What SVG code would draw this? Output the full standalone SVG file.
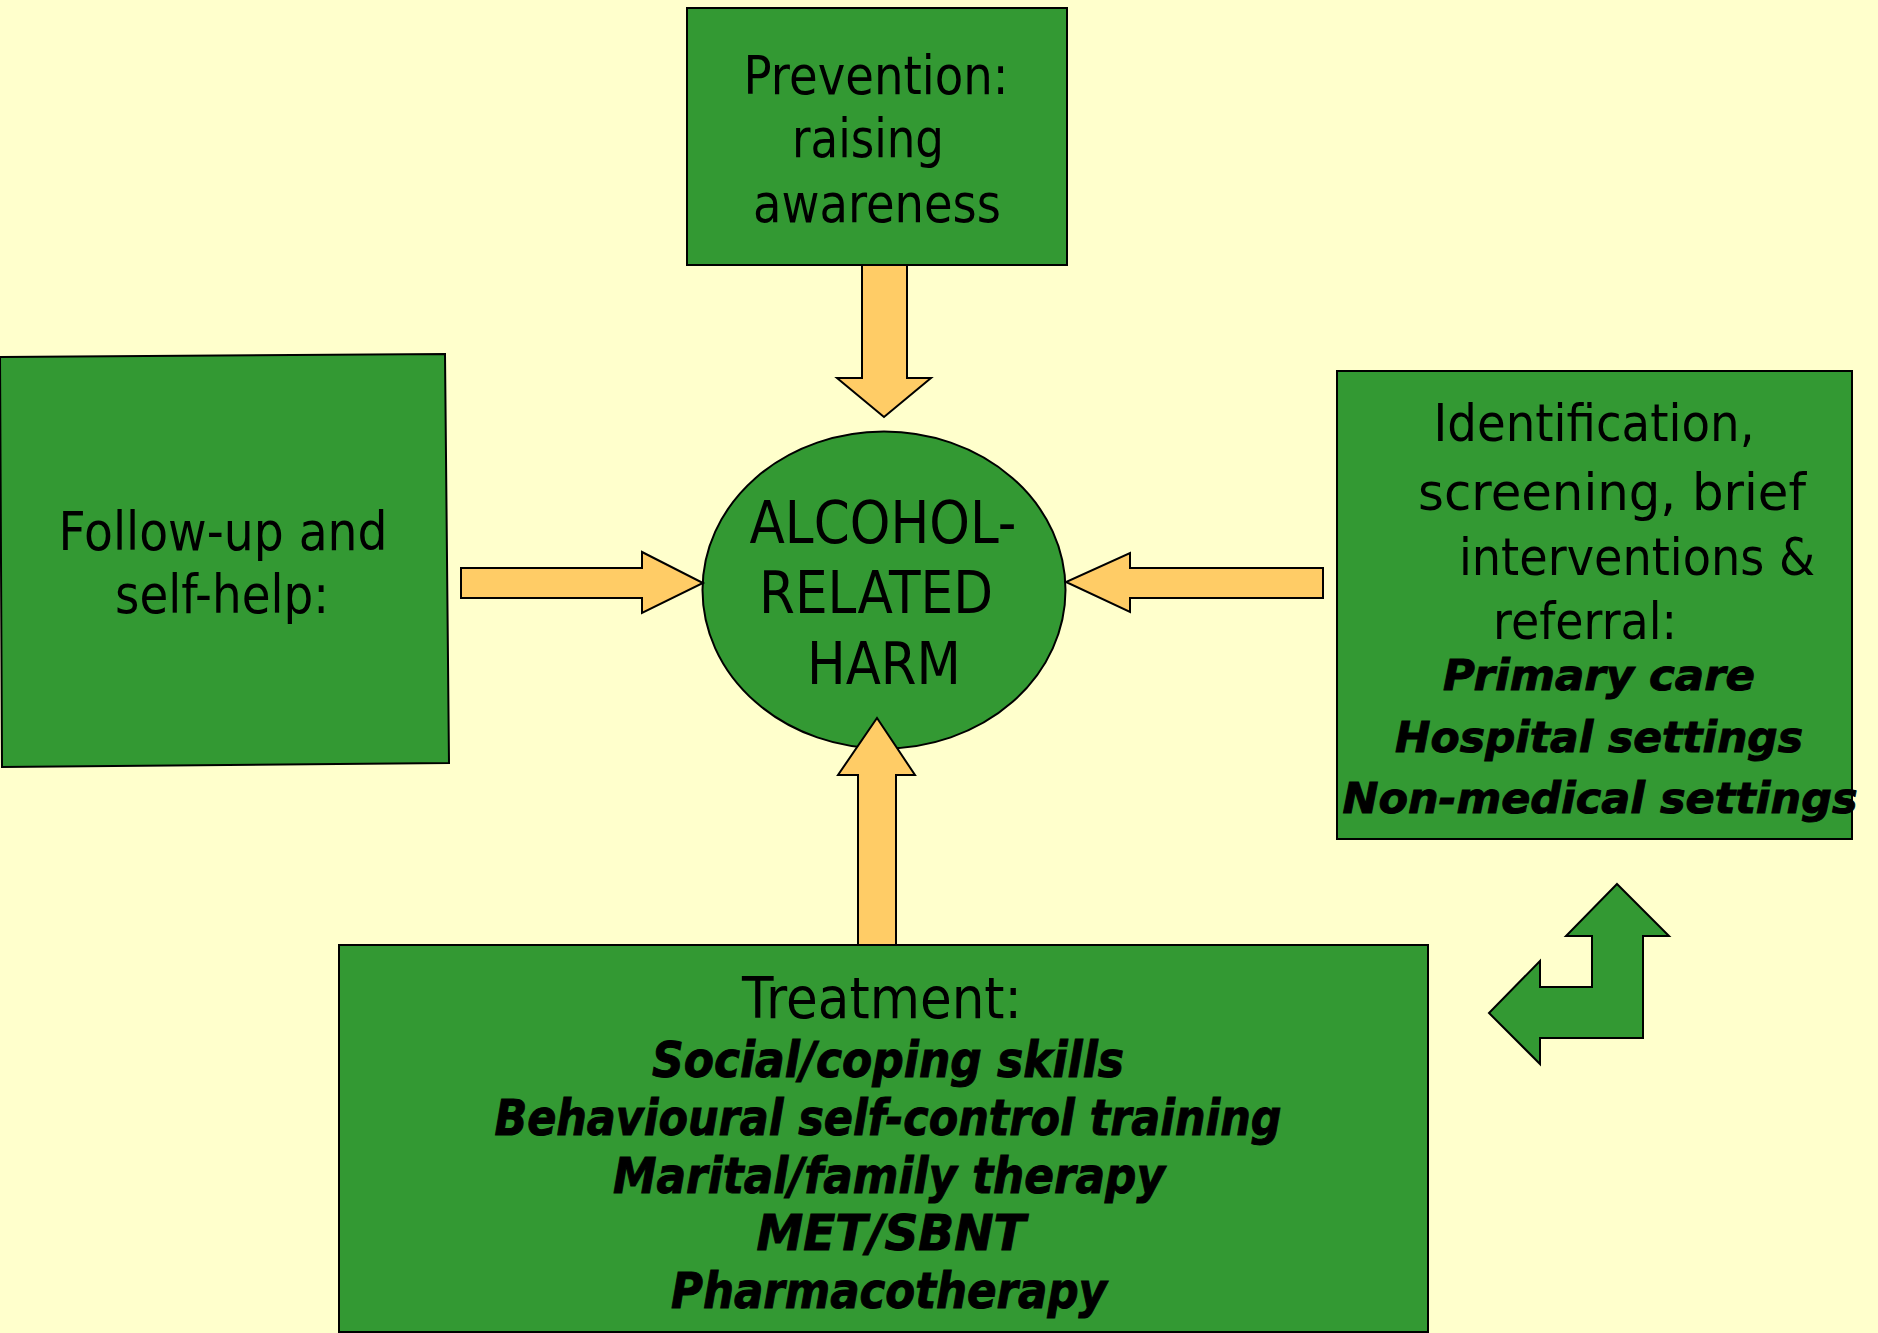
<svg xmlns="http://www.w3.org/2000/svg" width="1878" height="1333" viewBox="0 0 1878 1333">
<style>
.box{fill:#339933;stroke:#000;stroke-width:2}
.arr{fill:#FFCC66;stroke:#000;stroke-width:2;stroke-linejoin:miter}
.t{font-family:"DejaVu Sans","Liberation Sans",sans-serif;fill:#000;text-anchor:middle}
.b{font-family:"DejaVu Sans","Liberation Sans",sans-serif;font-weight:bold;font-style:italic;fill:#000;stroke:#000;stroke-width:1;text-anchor:middle}
</style>
<rect x="0" y="0" width="1878" height="1333" fill="#FFFFCC"/>
<g id="prevention">
<rect class="box" x="687" y="8" width="380" height="257"/>
<text class="t" font-size="54" x="876" y="94" textLength="265" lengthAdjust="spacingAndGlyphs">Prevention:</text>
<text class="t" font-size="54" x="868" y="157" textLength="152" lengthAdjust="spacingAndGlyphs">raising</text>
<text class="t" font-size="54" x="877" y="222" textLength="248" lengthAdjust="spacingAndGlyphs">awareness</text>
</g>
<g id="followup">
<polygon class="box" points="0,357 445,354 449,763 2,767"/>
<text class="t" font-size="53" x="223" y="550" textLength="329" lengthAdjust="spacingAndGlyphs">Follow-up and</text>
<text class="t" font-size="53" x="222" y="613" textLength="214" lengthAdjust="spacingAndGlyphs">self-help:</text>
</g>
<g id="harm">
<ellipse class="box" cx="884" cy="590" rx="181.5" ry="158.5"/>
<text class="t" font-size="58" x="883" y="543" textLength="267" lengthAdjust="spacingAndGlyphs">ALCOHOL-</text>
<text class="t" font-size="58" x="876" y="613" textLength="234" lengthAdjust="spacingAndGlyphs">RELATED</text>
<text class="t" font-size="58" x="884" y="684" textLength="154" lengthAdjust="spacingAndGlyphs">HARM</text>
</g>
<g id="identification">
<rect class="box" x="1337" y="371" width="515" height="468"/>
<text class="t" font-size="52" x="1594" y="441" textLength="321" lengthAdjust="spacingAndGlyphs">Identification,</text>
<text class="t" font-size="52" x="1612" y="510" textLength="388" lengthAdjust="spacingAndGlyphs">screening, brief</text>
<text class="t" font-size="52" x="1637" y="575" textLength="356" lengthAdjust="spacingAndGlyphs">interventions &amp;</text>
<text class="t" font-size="52" x="1585" y="639" textLength="184" lengthAdjust="spacingAndGlyphs">referral:</text>
<text class="b" font-size="43" x="1599" y="690" textLength="312" lengthAdjust="spacingAndGlyphs">Primary care</text>
<text class="b" font-size="43" x="1599" y="752" textLength="408" lengthAdjust="spacingAndGlyphs">Hospital settings</text>
<text class="b" font-size="43" x="1600" y="813" textLength="515" lengthAdjust="spacingAndGlyphs">Non-medical settings</text>
</g>
<g id="treatment">
<rect class="box" x="339" y="945" width="1089" height="387"/>
<text class="t" font-size="57" x="882" y="1018" textLength="280" lengthAdjust="spacingAndGlyphs">Treatment:</text>
<text class="b" font-size="49" x="888" y="1077" textLength="472" lengthAdjust="spacingAndGlyphs">Social/coping skills</text>
<text class="b" font-size="49" x="888" y="1135" textLength="787" lengthAdjust="spacingAndGlyphs">Behavioural self-control training</text>
<text class="b" font-size="49" x="889" y="1193" textLength="552" lengthAdjust="spacingAndGlyphs">Marital/family therapy</text>
<text class="b" font-size="49" x="891" y="1250" textLength="269" lengthAdjust="spacingAndGlyphs">MET/SBNT</text>
<text class="b" font-size="49" x="889" y="1308" textLength="436" lengthAdjust="spacingAndGlyphs">Pharmacotherapy</text>
</g>
<g id="connectors">
<polygon class="arr" points="862,265 907,265 907,378 931,378 884,417 837,378 862,378"/>
<polygon class="arr" points="461,568 642,568 642,552 703,583 642,613 642,598 461,598"/>
<polygon class="arr" points="1323,568 1130,568 1130,553 1066,582 1130,612 1130,598 1323,598"/>
<polygon class="arr" points="858,945 858,775 838,775 877,718 915,775 896,775 896,945"/>
<polygon class="box" points="1617,884 1669,936 1643,936 1643,1038 1540,1038 1540,1064 1489,1013 1540,961 1540,987 1592,987 1592,936 1566,936"/>
</g>
</svg>
